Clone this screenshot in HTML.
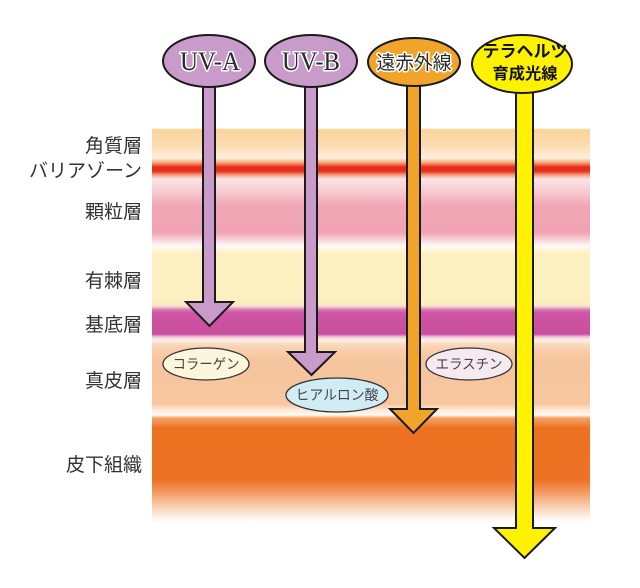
<!DOCTYPE html>
<html><head><meta charset="utf-8"><style>
html,body{margin:0;padding:0;background:#fff;}
svg{display:block;}
text{font-family:"Liberation Sans","Noto Sans CJK JP",sans-serif;}
</style></head><body>
<svg width="640" height="588" viewBox="0 0 640 588" xmlns="http://www.w3.org/2000/svg">
<defs>
<linearGradient id="skin" gradientUnits="userSpaceOnUse" x1="0" y1="128" x2="0" y2="528">
<stop offset="0" stop-color="#ffffff"/>
<stop offset="0.004" stop-color="#fbd49c"/>
<stop offset="0.0425" stop-color="#fcdcb0"/>
<stop offset="0.075" stop-color="#fdeedd"/>
<stop offset="0.0875" stop-color="#f5a070"/>
<stop offset="0.0975" stop-color="#e62c1a"/>
<stop offset="0.1075" stop-color="#e62c1a"/>
<stop offset="0.1175" stop-color="#f3a080"/>
<stop offset="0.1275" stop-color="#fbe3e6"/>
<stop offset="0.155" stop-color="#f7cdd4"/>
<stop offset="0.1925" stop-color="#f1a9b6"/>
<stop offset="0.26" stop-color="#f0a2b2"/>
<stop offset="0.28" stop-color="#f8d3da"/>
<stop offset="0.295" stop-color="#fefafa"/>
<stop offset="0.31" stop-color="#fdf2c8"/>
<stop offset="0.33" stop-color="#fdf0c0"/>
<stop offset="0.43" stop-color="#fdf0c0"/>
<stop offset="0.445" stop-color="#fbe4cc"/>
<stop offset="0.455" stop-color="#d774b4"/>
<stop offset="0.4625" stop-color="#cf55a4"/>
<stop offset="0.515" stop-color="#c94e9e"/>
<stop offset="0.5225" stop-color="#f0c8dc"/>
<stop offset="0.53" stop-color="#fdf0e4"/>
<stop offset="0.545" stop-color="#f9d4b4"/>
<stop offset="0.58" stop-color="#f6c49c"/>
<stop offset="0.69" stop-color="#f7c7a0"/>
<stop offset="0.705" stop-color="#fde8d8"/>
<stop offset="0.7175" stop-color="#fffaf5"/>
<stop offset="0.725" stop-color="#f5a46a"/>
<stop offset="0.75" stop-color="#ec711f"/>
<stop offset="0.88" stop-color="#ed7226"/>
<stop offset="0.9175" stop-color="#f4a46e"/>
<stop offset="0.955" stop-color="#fbdcc4"/>
<stop offset="0.985" stop-color="#ffffff"/>
<stop offset="1" stop-color="#ffffff"/>
</linearGradient>
</defs>

<rect x="152" y="128" width="438" height="400" fill="url(#skin)"/>

<!-- left labels -->
<g font-size="19" fill="#333" text-anchor="end">
<text x="142" y="152">角質層</text>
<text x="142" y="177">バリアゾーン</text>
<text x="142" y="218">顆粒層</text>
<text x="142" y="287">有棘層</text>
<text x="142" y="331">基底層</text>
<text x="142" y="387">真皮層</text>
<text x="142" y="471">皮下組織</text>
</g>

<!-- small ellipses -->
<ellipse cx="206" cy="364" rx="43" ry="16" fill="#fdf5dc" stroke="#333" stroke-width="1.3"/>
<text x="206" y="369" font-size="14" fill="#444" text-anchor="middle" textLength="67" lengthAdjust="spacingAndGlyphs">コラーゲン</text>
<ellipse cx="469" cy="364" rx="43" ry="16" fill="#f7e9f1" stroke="#333" stroke-width="1.3"/>
<text x="469" y="369" font-size="14" fill="#444" text-anchor="middle" textLength="67" lengthAdjust="spacingAndGlyphs">エラスチン</text>

<!-- arrows -->
<path d="M203,80 L203,302 L186,302 L209.5,326 L233,302 L215,302 L215,80" fill="#c99bcb" stroke="#1a1a1a" stroke-width="2" stroke-linejoin="miter"/>
<path d="M305,80 L305,352 L288,352 L311.5,375 L335,352 L317,352 L317,80" fill="#c99bcb" stroke="#1a1a1a" stroke-width="2"/>
<ellipse cx="337" cy="395" rx="51" ry="17" fill="#d2ecf6" stroke="#333" stroke-width="1.3"/>
<text x="337" y="400" font-size="14" fill="#444" text-anchor="middle" textLength="83" lengthAdjust="spacingAndGlyphs">ヒアルロン酸</text>
<path d="M407,80 L407,409 L390,409 L413.5,433 L437,409 L420,409 L420,80" fill="#f0a52a" stroke="#1a1a1a" stroke-width="2"/>
<path d="M516,85 L516,528 L494,528 L524.5,558 L555,528 L533,528 L533,85" fill="#fff200" stroke="#1a1a1a" stroke-width="2"/>

<!-- top ellipses -->
<ellipse cx="209" cy="61" rx="46" ry="26" fill="#c99bcb" stroke="#1a1a1a" stroke-width="2"/>
<ellipse cx="311" cy="61" rx="46" ry="26" fill="#c99bcb" stroke="#1a1a1a" stroke-width="2"/>
<ellipse cx="414" cy="62" rx="46" ry="24" fill="#f0a52a" stroke="#1a1a1a" stroke-width="2"/>
<ellipse cx="522" cy="64" rx="50" ry="29" fill="#fff200" stroke="#1a1a1a" stroke-width="2"/>

<g style="paint-order:stroke" stroke="#fff" stroke-width="3" stroke-linejoin="round" fill="#2a2a2a">
<text x="210" y="70" font-family="Liberation Serif, serif" font-size="26" text-anchor="middle" textLength="60" lengthAdjust="spacingAndGlyphs" style="font-family:'Liberation Serif',serif">UV-A</text>
<text x="311" y="70" font-family="Liberation Serif, serif" font-size="26" text-anchor="middle" textLength="58" lengthAdjust="spacingAndGlyphs" style="font-family:'Liberation Serif',serif">UV-B</text>
<text x="414" y="69" font-size="19" text-anchor="middle" textLength="75" lengthAdjust="spacingAndGlyphs">遠赤外線</text>
</g>
<text x="525" y="57" font-size="17" font-weight="bold" fill="#111" text-anchor="middle" textLength="85" lengthAdjust="spacingAndGlyphs">テラヘルツ</text>
<text x="525" y="79" font-size="16" font-weight="bold" fill="#111" text-anchor="middle" textLength="65" lengthAdjust="spacingAndGlyphs">育成光線</text>
</svg>
</body></html>
